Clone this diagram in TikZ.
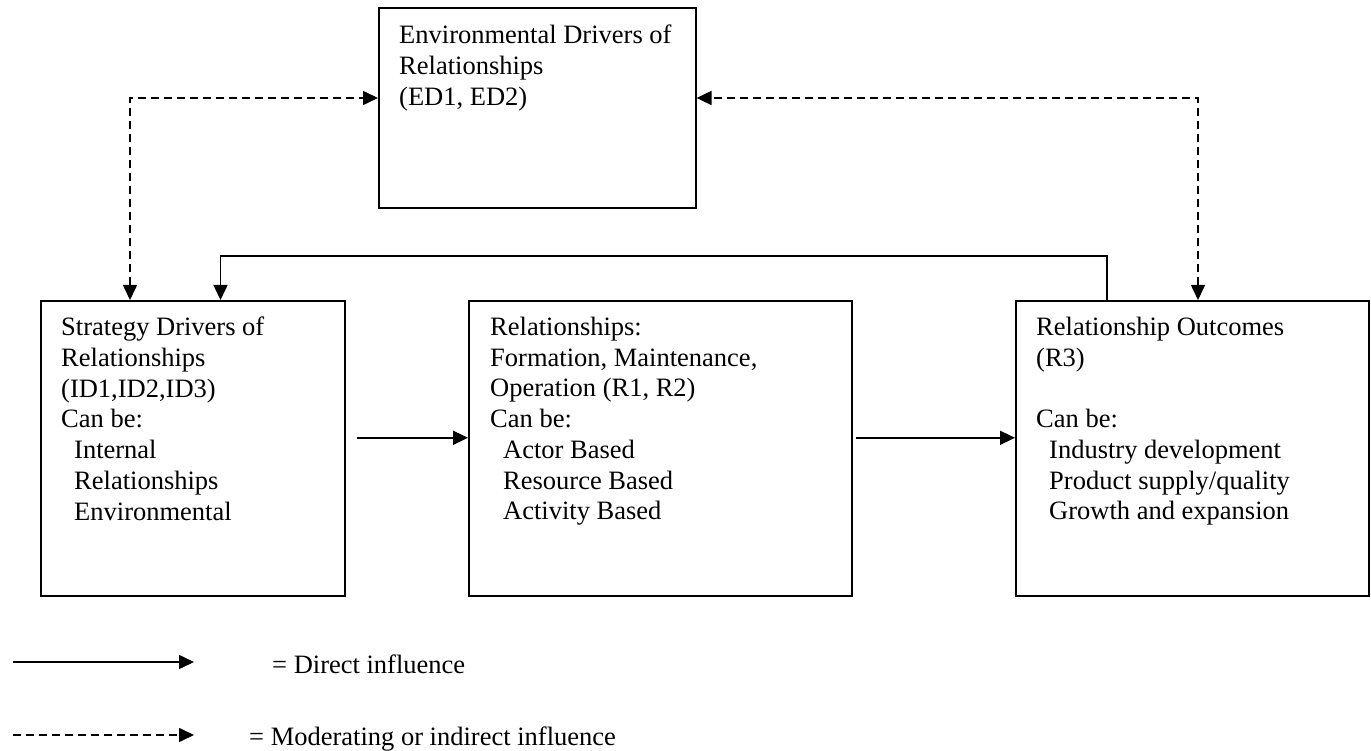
\documentclass[tikz,border=0pt]{standalone}
\usepackage{fontspec}
\setmainfont{Liberation Serif}
\usetikzlibrary{arrows.meta}
\begin{document}
\begin{tikzpicture}[x=1pt,y=-1pt,
  frame/.style={draw, line width=1.6pt, inner sep=0pt, anchor=north west},
  body/.style={anchor=north west, align=left, inner sep=0pt,
    font=\fontsize{26.5}{30.7}\selectfont},
  note/.style={anchor=base west, inner sep=0pt, font=\fontsize{26.5}{30.7}\selectfont},
  tip/.tip={Triangle[length=15pt,width=14pt]},
  link/.style={line width=1.6pt, -tip},
  mod/.style={line width=1.6pt, dash pattern=on 8pt off 5pt, -tip},
  both/.style={line width=1.6pt, dash pattern=on 8pt off 5pt, tip-tip}]
\useasboundingbox (0,0) rectangle (1371,751);

% boxes
\node[frame, minimum width=317pt, minimum height=200pt] (env) at (378,7) {};
\node[frame, minimum width=304pt, minimum height=295pt] (sd)  at (40,300) {};
\node[frame, minimum width=383pt, minimum height=295pt] (rel) at (468,300) {};
\node[frame, minimum width=353pt, minimum height=295pt] (out) at (1015,300) {};

% box texts
\node[body] (envt) at (399,25) {Environmental Drivers of\\Relationships\\(ED1, ED2)};
\node[body] (sdt) at (61,317) {Strategy Drivers of\\Relationships\\(ID1,ID2,ID3)\\Can be:\\
  \hspace*{13pt}Internal\\\hspace*{13pt}Relationships\\\hspace*{13pt}Environmental};
\node[body] (relt) at (490,317) {Relationships:\\Formation, Maintenance,\\Operation (R1, R2)\\Can be:\\
  \hspace*{13pt}Actor Based\\\hspace*{13pt}Resource Based\\\hspace*{13pt}Activity Based};
\node[body] (outt) at (1036,317) {Relationship Outcomes\\(R3)\\[30.7pt]Can be:\\
  \hspace*{13pt}Industry development\\\hspace*{13pt}Product supply/quality\\\hspace*{13pt}Growth and expansion};

% moderating links with the environmental drivers
\draw[both] ([xshift=90pt]sd.north west) |- ([yshift=-91pt]env.north west);
\draw[both] ([xshift=183pt]out.north west) |- ([yshift=-91pt]env.north east);

% feedback from outcomes to strategy drivers
\draw[link] ([xshift=92pt]out.north west) |- ++(0,-44) -| ([xshift=180.5pt]sd.north west);

% direct influences
\draw[link] ([xshift=11pt,yshift=10.5pt]sd.east) -- ([yshift=10.5pt]rel.west);
\draw[link] ([xshift=3pt,yshift=10.5pt]rel.east) -- ([yshift=10.5pt]out.west);

% legend
\coordinate (l1a) at (13,662);
\coordinate (l1b) at (194,662);
\coordinate (l2a) at (13,735);
\coordinate (l2b) at (194,735);
\draw[link] (l1a) -- (l1b);
\draw[mod] (l2a) -- (l2b);
\node[note] (n1) at (272,673) {= Direct influence};
\node[note] (n2) at (249,745) {= Moderating or indirect influence};
\end{tikzpicture}
\end{document}
